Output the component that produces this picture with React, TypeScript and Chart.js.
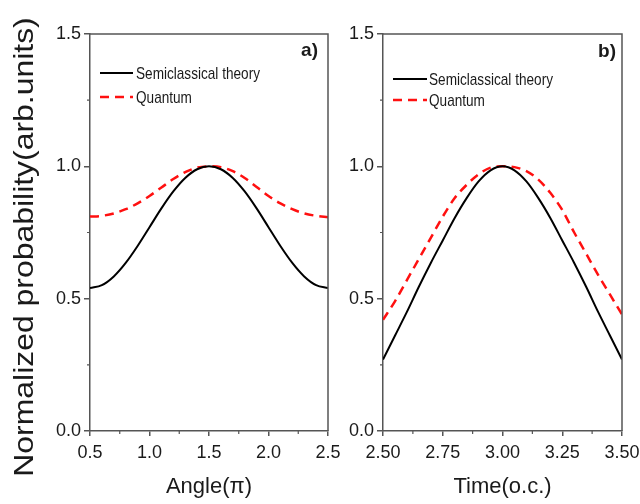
import React, { useEffect, useRef } from 'react';
import { Chart, registerables } from 'chart.js';
Chart.register(...registerables);

// ---- data ----
const angleX = [0.5, 0.6, 0.7, 0.8, 0.9, 1.0, 1.1, 1.2, 1.3, 1.4, 1.5, 1.6, 1.7, 1.8, 1.9, 2.0, 2.1, 2.2, 2.3, 2.4, 2.5];
const angleSemiclassical = [0.54, 0.551, 0.584, 0.635, 0.699, 0.77, 0.841, 0.905, 0.956, 0.989, 1.0, 0.989, 0.956, 0.905, 0.841, 0.77, 0.699, 0.635, 0.584, 0.551, 0.54];
const angleQuantum = [0.81, 0.813, 0.822, 0.838, 0.86, 0.888, 0.92, 0.952, 0.978, 0.995, 1.0, 0.997, 0.982, 0.956, 0.922, 0.888, 0.86, 0.838, 0.822, 0.813, 0.808];

const timeX = [2.5, 2.55, 2.6, 2.65, 2.7, 2.75, 2.8, 2.85, 2.9, 2.95, 3.0, 3.05, 3.1, 3.15, 3.2, 3.25, 3.3, 3.35, 3.4, 3.45, 3.5];
const timeSemiclassical = [0.27, 0.36, 0.45, 0.545, 0.635, 0.72, 0.805, 0.88, 0.943, 0.985, 1.0, 0.985, 0.943, 0.88, 0.805, 0.72, 0.635, 0.545, 0.45, 0.36, 0.27];
const timeQuantum = [0.42, 0.49, 0.57, 0.65, 0.73, 0.81, 0.88, 0.93, 0.97, 0.995, 1.0, 0.997, 0.982, 0.95, 0.9, 0.835, 0.75, 0.67, 0.59, 0.515, 0.44];

const seriesNames = ['Semiclassical theory', 'Quantum'];
const yTitle = 'Normalized probability(arb.units)';
const yMin = 0, yMax = 1.5, yStep = 0.5, yMinor = 0.25;

const SANS = "'Liberation Sans', Arial, sans-serif";
const AXIS = '#555555';
const TEXT = '#1a1a1a';

type Panel = {
  xs: number[]; semi: number[]; quant: number[];
  xMin: number; xMax: number; xStep: number; xMinor: number; xDigits: number;
  xTitle: string; label: string;
  yWidth: number; padRight: number;
  legendY: [number, number]; legendLine: [number, number]; legendTextX: number;
  labelRight: number; labelY: number;
  showYTitle: boolean;
};

function makeChart(canvas: HTMLCanvasElement, p: Panel) {
  const decor = {
    id: 'decor',
    afterDraw(chart: any) {
      const { ctx, chartArea: a, scales } = chart;
      ctx.save();
      // frame top/right
      ctx.strokeStyle = AXIS;
      ctx.lineWidth = 1.5;
      ctx.beginPath();
      ctx.moveTo(a.left, a.top);
      ctx.lineTo(a.right, a.top);
      ctx.lineTo(a.right, a.bottom);
      ctx.stroke();
      // minor ticks
      ctx.lineWidth = 1.2;
      ctx.beginPath();
      for (let v = p.xMin + p.xMinor; v < p.xMax - 1e-9; v += p.xMinor * 2) {
        const x = scales.x.getPixelForValue(v);
        ctx.moveTo(x, a.bottom);
        ctx.lineTo(x, a.bottom + 3);
      }
      for (let v = yMin + yMinor; v < yMax; v += yMinor * 2) {
        const y = scales.y.getPixelForValue(v);
        ctx.moveTo(a.left, y);
        ctx.lineTo(a.left - 3, y);
      }
      ctx.stroke();
      // legend
      const ds = chart.data.datasets;
      for (let i = 0; i < ds.length; i++) {
        const y = p.legendY[i];
        ctx.strokeStyle = ds[i].borderColor;
        ctx.lineWidth = ds[i].borderWidth;
        ctx.setLineDash(ds[i].borderDash || []);
        ctx.beginPath();
        ctx.moveTo(p.legendLine[0], y);
        ctx.lineTo(p.legendLine[1], y);
        ctx.stroke();
        ctx.setLineDash([]);
        ctx.save();
        ctx.translate(p.legendTextX, y + 1);
        ctx.scale(0.8, 1);
        ctx.fillStyle = TEXT;
        ctx.font = `17px ${SANS}`;
        ctx.textBaseline = 'middle';
        ctx.textAlign = 'left';
        ctx.fillText(ds[i].label, 0, 0);
        ctx.restore();
      }
      // panel label
      ctx.font = `bold 19px ${SANS}`;
      ctx.textAlign = 'right';
      ctx.textBaseline = 'middle';
      ctx.fillStyle = TEXT;
      ctx.fillText(p.label, p.labelRight, p.labelY);
      // y title
      if (p.showYTitle) {
        ctx.translate(25, 247);
        ctx.rotate(-Math.PI / 2);
        ctx.scale(1.14, 1);
        ctx.font = `28px ${SANS}`;
        ctx.textAlign = 'center';
        ctx.textBaseline = 'middle';
        ctx.fillText(yTitle, 0, 0);
      }
      ctx.restore();
    },
  };

  return new Chart(canvas, {
    type: 'line',
    data: {
      datasets: [
        {
          label: seriesNames[0],
          data: p.xs.map((x, i) => ({ x, y: p.semi[i] })),
          borderColor: '#000000',
          borderWidth: 2,
          pointRadius: 0,
          cubicInterpolationMode: 'monotone',
          fill: false,
        },
        {
          label: seriesNames[1],
          data: p.xs.map((x, i) => ({ x, y: p.quant[i] })),
          borderColor: '#ff1010',
          borderWidth: 2.5,
          borderDash: [9, 6],
          pointRadius: 0,
          cubicInterpolationMode: 'monotone',
          fill: false,
        },
      ],
    },
    options: {
      animation: false,
      responsive: false,
      maintainAspectRatio: false,
      events: [],
      layout: { padding: { left: 0, right: p.padRight, top: 34, bottom: 0 } },
      plugins: { legend: { display: false }, tooltip: { enabled: false } },
      scales: {
        x: {
          type: 'linear',
          min: p.xMin,
          max: p.xMax,
          afterFit: (s: any) => { s.height = 73; s.paddingLeft = 0; s.paddingRight = 0; },
          ticks: {
            stepSize: p.xStep,
            callback: (v: any) => Number(v).toFixed(p.xDigits),
            font: { size: 18, family: SANS },
            color: TEXT,
            padding: 6,
            maxRotation: 0,
            autoSkip: false,
          },
          grid: { drawOnChartArea: false, drawTicks: true, tickLength: 5, color: AXIS, lineWidth: 1.5 },
          border: { display: true, color: AXIS, width: 1.5 },
          title: {
            display: true,
            text: p.xTitle,
            font: { size: 22, family: SANS },
            color: TEXT,
            padding: { top: 0, bottom: 4 },
          },
        },
        y: {
          type: 'linear',
          min: yMin,
          max: yMax,
          afterFit: (s: any) => { s.width = p.yWidth; s.paddingTop = 0; s.paddingBottom = 0; },
          ticks: {
            stepSize: yStep,
            callback: (v: any) => Number(v).toFixed(1),
            font: { size: 18, family: SANS },
            color: TEXT,
            padding: 3,
          },
          grid: { drawOnChartArea: false, drawTicks: true, tickLength: 6, color: AXIS, lineWidth: 1.5 },
          border: { display: true, color: AXIS, width: 1.5 },
        },
      },
    },
    plugins: [decor],
  } as any);
}

const leftPanel: Panel = {
  xs: angleX, semi: angleSemiclassical, quant: angleQuantum,
  xMin: 0.5, xMax: 2.5, xStep: 0.5, xMinor: 0.25, xDigits: 1,
  xTitle: 'Angle(π)', label: 'a)',
  yWidth: 90, padRight: 17,
  legendY: [73, 97], legendLine: [100, 133], legendTextX: 136,
  labelRight: 318, labelY: 51,
  showYTitle: true,
};

const rightPanel: Panel = {
  xs: timeX, semi: timeSemiclassical, quant: timeQuantum,
  xMin: 2.5, xMax: 3.5, xStep: 0.25, xMinor: 0.125, xDigits: 2,
  xTitle: 'Time(o.c.)', label: 'b)',
  yWidth: 43, padRight: 18,
  legendY: [79, 100], legendLine: [53, 87], legendTextX: 89,
  labelRight: 276, labelY: 52,
  showYTitle: false,
};

function PanelChart({ panel, left, width }: { panel: Panel; left: number; width: number }) {
  const ref = useRef<HTMLCanvasElement>(null);
  useEffect(() => {
    if (!ref.current) return;
    const c = makeChart(ref.current, panel);
    return () => c.destroy();
  }, [panel]);
  return (
    <canvas
      ref={ref}
      width={width}
      height={504}
      style={{ position: 'absolute', left, top: 0, width, height: 504 }}
    />
  );
}

export default function App() {
  return (
    <div style={{ position: 'fixed', left: 0, top: 0, width: 640, height: 504, background: '#ffffff', overflow: 'hidden' }}>
      <PanelChart panel={rightPanel} left={340} width={300} />
      <PanelChart panel={leftPanel} left={0} width={345} />
    </div>
  );
}
